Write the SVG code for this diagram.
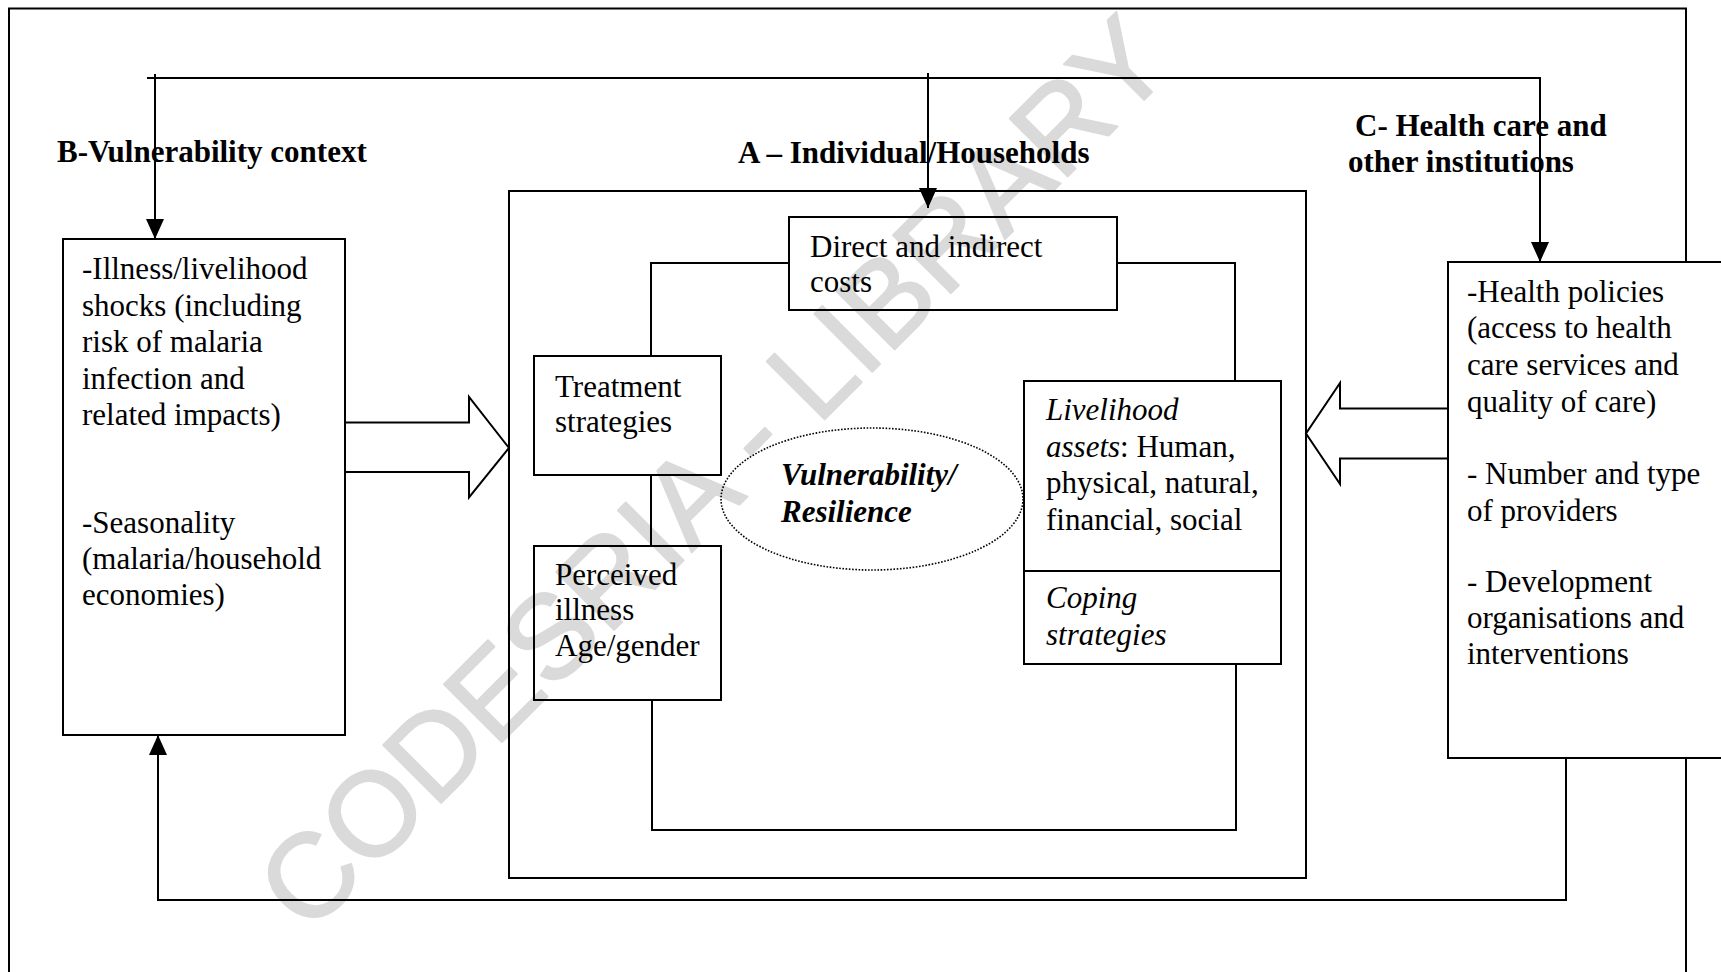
<svg xmlns="http://www.w3.org/2000/svg" width="1721" height="972" viewBox="0 0 1721 972">
<defs>
<style>
.t{font-family:"Liberation Serif","Times New Roman",serif;font-size:31px;fill:#000}
.b{font-weight:bold}
.i{font-style:italic}
.box{fill:none;stroke:#000;stroke-width:2}
.ln{fill:none;stroke:#000;stroke-width:2}
.wm{font-family:"Liberation Sans",Arial,sans-serif;font-size:119px;fill:#dadada;stroke:#dadada;stroke-width:2;stroke-linejoin:round}
</style>
<marker id="ah" viewBox="0 0 20 18" refX="20" refY="9" markerWidth="20" markerHeight="18" markerUnits="userSpaceOnUse" orient="auto">
<path d="M0,0 L20,9 L0,18 z" fill="#000"/>
</marker>
</defs>
<rect width="1721" height="972" fill="#fff"/>
<text class="wm" x="308" y="936" transform="rotate(-45 308 936)">CODESRIA - LIBRARY</text>

<g id="frame">
<path class="ln" d="M9,972 V8.5 H1686 V262"/>
<path class="ln" d="M1686,758 V972"/>
</g>

<g id="headers">
<text class="t b" x="57" y="162">B-Vulnerability context</text>
<text class="t b" x="738" y="163">A – Individual/Households</text>
<text class="t b" x="1355" y="136">C- Health care and</text>
<text class="t b" x="1348" y="172">other institutions</text>
</g>

<g id="nodeA">
<rect class="box" x="509" y="191" width="797" height="687"/>
</g>

<g id="nodeB">
<rect class="box" x="63" y="239" width="282" height="496"/>
<text class="t" x="82" y="279">-Illness/livelihood</text>
<text class="t" x="82" y="315.5">shocks (including</text>
<text class="t" x="82" y="352">risk of malaria</text>
<text class="t" x="82" y="388.5">infection and</text>
<text class="t" x="82" y="425">related impacts)</text>
<text class="t" x="82" y="533">-Seasonality</text>
<text class="t" x="82" y="569">(malaria/household</text>
<text class="t" x="82" y="605">economies)</text>
</g>

<g id="nodeC">
<rect class="box" x="1448" y="262" width="290" height="496"/>
<text class="t" x="1467" y="302">-Health policies</text>
<text class="t" x="1467" y="338">(access to health</text>
<text class="t" x="1467" y="374.5">care services and</text>
<text class="t" x="1467" y="412">quality of care)</text>
<text class="t" x="1467" y="484">- Number and type</text>
<text class="t" x="1467" y="520.5">of providers</text>
<text class="t" x="1467" y="592">- Development</text>
<text class="t" x="1467" y="628">organisations and</text>
<text class="t" x="1467" y="664">interventions</text>
</g>

<g id="nodeCosts">
<rect class="box" x="789" y="217" width="328" height="93"/>
<text class="t" x="810" y="257">Direct and indirect</text>
<text class="t" x="810" y="292">costs</text>
</g>

<g id="nodeTreatment">
<rect class="box" x="534" y="356" width="187" height="119"/>
<text class="t" x="555" y="397">Treatment</text>
<text class="t" x="555" y="432">strategies</text>
</g>

<g id="nodePerceived">
<rect class="box" x="534" y="546" width="187" height="154"/>
<text class="t" x="555" y="585">Perceived</text>
<text class="t" x="555" y="620">illness</text>
<text class="t" x="555" y="656">Age/gender</text>
</g>

<g id="nodeVulnerability">
<ellipse cx="872" cy="499" rx="151" ry="71" fill="none" stroke="#000" stroke-width="1.6" stroke-dasharray="1.6,1.6"/>
<text class="t b i" x="781" y="485">Vulnerability/</text>
<text class="t b i" x="781" y="522">Resilience</text>
</g>

<g id="nodeLivelihood">
<rect class="box" x="1024" y="381" width="257" height="190"/>
<text class="t" x="1046" y="420"><tspan class="i">Livelihood</tspan></text>
<text class="t" x="1046" y="456.5"><tspan class="i">assets</tspan>: Human,</text>
<text class="t" x="1046" y="493">physical, natural,</text>
<text class="t" x="1046" y="529.5">financial, social</text>
</g>

<g id="nodeCoping">
<rect class="box" x="1024" y="571" width="257" height="93"/>
<text class="t i" x="1046" y="608">Coping</text>
<text class="t i" x="1046" y="645">strategies</text>
</g>

<g id="connectors">
<path class="ln" d="M147,78 H1540 V262" marker-end="url(#ah)"/>
<path class="ln" d="M155,74 V239" marker-end="url(#ah)"/>
<path class="ln" d="M928,73 V208" marker-end="url(#ah)"/>
<path class="ln" d="M1566,758 V900 H158 V735" marker-end="url(#ah)"/>
<path class="ln" d="M789,263 H651 V356"/>
<path class="ln" d="M1117,263 H1235 V381"/>
<path class="ln" d="M651,475 V546"/>
<path class="ln" d="M652,700 V830 H1236 V664"/>
<path class="ln" d="M345,422.5 H469 V397 L509,448 L469,497.5 V472 H345"/>
<path class="ln" d="M1448,408.5 H1340 V383 L1306,433.5 L1340,484 V458.5 H1448"/>
</g>
</svg>
